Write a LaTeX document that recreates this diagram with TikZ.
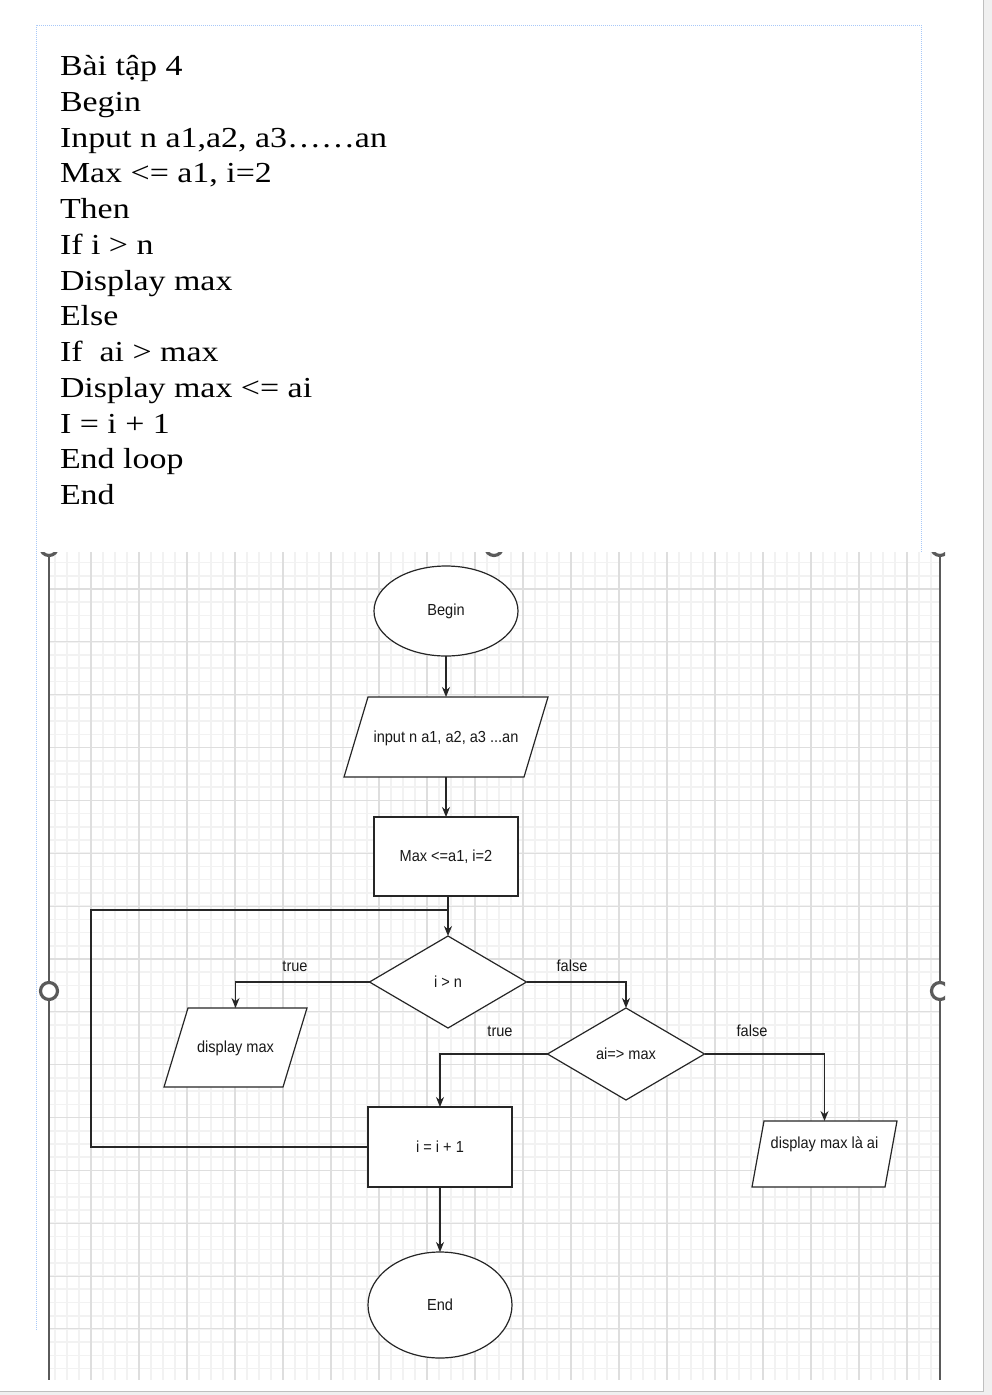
\documentclass[tikz,border=0pt]{standalone}
\usepackage{fontspec}
\setmainfont{Liberation Serif}
\newfontfamily\codefont[FakeStretch=1.17]{Liberation Serif}
\newfontfamily\diafont[FakeStretch=0.91]{Liberation Sans}
\usetikzlibrary{shapes.geometric,arrows.meta,calc}

% parallelogram drawn around a named node: #1 node, #2 half width, #3 half height, #4 slant
\newcommand\slantbox[4]{%
  \draw[shapeline, fill=white]
    ($(#1.center)+(-#2+#4,-#3)$) -- ($(#1.center)+(#2+#4,-#3)$) --
    ($(#1.center)+(#2-#4,#3)$) -- ($(#1.center)+(-#2-#4,#3)$) -- cycle;}

\definecolor{boxblue}{HTML}{A8C8F8}
\definecolor{gripgray}{HTML}{5A5A5A}

\begin{document}
\begin{tikzpicture}[x=1pt,y=-1pt,
  every node/.style={inner sep=0pt, outer sep=0pt},
  para/.style={font=\codefont\fontsize{29}{34}\selectfont, anchor=base west},
  minorline/.style={draw=black!5, line width=1.6pt},
  majorline/.style={draw=black!13, line width=1.1pt},
  shapeline/.style={draw=black!85, line width=1.2pt},
  flow/.style={draw=black!85, line width=1.2pt},
  arr/.style={flow, -{Stealth[length=10pt,width=8pt]}},
  lbl/.style={font=\diafont\fontsize{16}{18}\selectfont, text=black!90},
  term/.style={ellipse, shapeline, fill=white, minimum width=144pt, lbl},
  proc/.style={rectangle, shapeline, fill=white, minimum width=144pt, minimum height=80pt, lbl},
  dec/.style={diamond, shapeline, fill=white, minimum width=157pt, minimum height=92pt, lbl},
  selframe/.style={draw=gripgray, line width=1.4pt},
  grip/.style={draw=gripgray, line width=3.2pt, fill=white},
]
\useasboundingbox (0,0) rectangle (992,1395);
\fill[white] (0,0) rectangle (992,1395);

% window edges
\fill[black!6] (983,0) rectangle (992,1395);
\fill[black!6] (0,1392) rectangle (992,1395);
\draw[black!25, line width=1pt] (983.5,0) -- (983.5,1391.5) -- (0,1391.5);

% text box outline
\draw[boxblue, line width=0.8pt, dash pattern=on 1pt off 1pt]
  (36,1330) -- (36,25) -- (921,25) -- (921,552);

% pseudo code
\node[para] (l1)  at (60,75.5)  {Bài tập 4};
\node[para] (l2)  at (60,111.2) {Begin};
\node[para] (l3)  at (60,147.0) {Input n a1,a2, a3……an};
\node[para] (l4)  at (60,182.7) {Max <= a1, i=2};
\node[para] (l5)  at (60,218.5) {Then};
\node[para] (l6)  at (60,254.2) {If i > n};
\node[para] (l7)  at (60,290.0) {Display max};
\node[para] (l8)  at (60,325.7) {Else};
\node[para] (l9)  at (60,361.5) {If\ \ ai > max};
\node[para] (l10) at (60,397.2) {Display max <= ai};
\node[para] (l11) at (60,433.0) {I = i + 1};
\node[para] (l12) at (60,468.7) {End loop};
\node[para] (l13) at (60,504.5) {End};

% grid paper
\begin{scope}
  \clip (49,552) rectangle (940,1380);
  \foreach \k in {-3,...,70} {
    \pgfmathsetmacro\xx{91+12*\k}
    \draw[minorline] (\xx,552) -- (\xx,1380);
  }
  \foreach \m in {-2,...,59} {
    \pgfmathsetmacro\yy{589+13.2125*\m}
    \draw[minorline] (49,\yy) -- (940,\yy);
  }
  \foreach \k in {0,...,17} {
    \pgfmathsetmacro\xx{91+48*\k}
    \draw[majorline] (\xx,552) -- (\xx,1380);
  }
  \foreach \m in {0,...,14} {
    \pgfmathsetmacro\yy{589+52.85*\m}
    \draw[majorline] (49,\yy) -- (940,\yy);
  }
\end{scope}

% selection frame and grips
\draw[selframe] (49,552) -- (49,1380);
\draw[selframe] (940,552) -- (940,1380);
\begin{scope}
  \clip (0,552) rectangle (945,1395);
  \draw[grip] (49,547) circle (8.5pt);
  \draw[grip] (494,547) circle (8.5pt);
  \draw[grip] (940,547) circle (8.5pt);
  \draw[grip] (49,991) circle (8.5pt);
  \draw[grip] (940,991) circle (8.5pt);
\end{scope}

% flowchart nodes
\node[term, minimum height=90pt] (begin) at (446,611) {Begin};

\node[lbl, minimum width=180pt, minimum height=80pt] (inp) at (446,737) {};
\slantbox{inp}{90}{40}{12}
\node[lbl] (inptext) at (446,738) {input n a1, a2, a3 ...an};

\node[proc, minimum height=79pt] (max) at (446,856.5) {Max <=a1, i=2};
\node[dec] (ifn) at (448,982) {i > n};

\node[lbl, minimum width=119pt, minimum height=79pt] (dmax) at (235.5,1047.5) {};
\slantbox{dmax}{59.5}{39.5}{12}
\node[lbl] (dmaxtext) at (235.5,1048.5) {display max};

\node[dec] (ai) at (626,1054) {ai=> max};

\node[lbl, minimum width=133pt, minimum height=66pt] (dl) at (824.5,1154) {};
\slantbox{dl}{66.5}{33}{6}
\node[lbl] (dltext) at (824.5,1144.5) {display max là ai};

\node[proc] (inc) at (440,1147) {i = i + 1};
\node[term, minimum height=106pt] (end) at (440,1305) {End};

% connectors
\draw[arr] (begin.south) -- (inp.north);
\draw[arr] (inp.south) -- (max.north);
\draw[arr] (max.south -| ifn.north) -- (ifn.north);
\coordinate (loopb) at (91,1147);
\coordinate (loopt) at (91,910);
\draw[flow] (inc.west) -- (loopb) -- (loopt) -- (loopt -| ifn.north);
\draw[arr] (ifn.west) -| (dmax.north);
\draw[arr] (ifn.east) -| (ai.north);
\draw[arr] (ai.west) -| (inc.north);
\draw[arr] (ai.east) -| (dl.north);
\draw[arr] (inc.south) -- (end.north);

% branch labels
\node[lbl] (lt1) at (295,966) {true};
\node[lbl] (lf1) at (572,966) {false};
\node[lbl] (lt2) at (500,1031) {true};
\node[lbl] (lf2) at (752,1031) {false};
\end{tikzpicture}
\end{document}
